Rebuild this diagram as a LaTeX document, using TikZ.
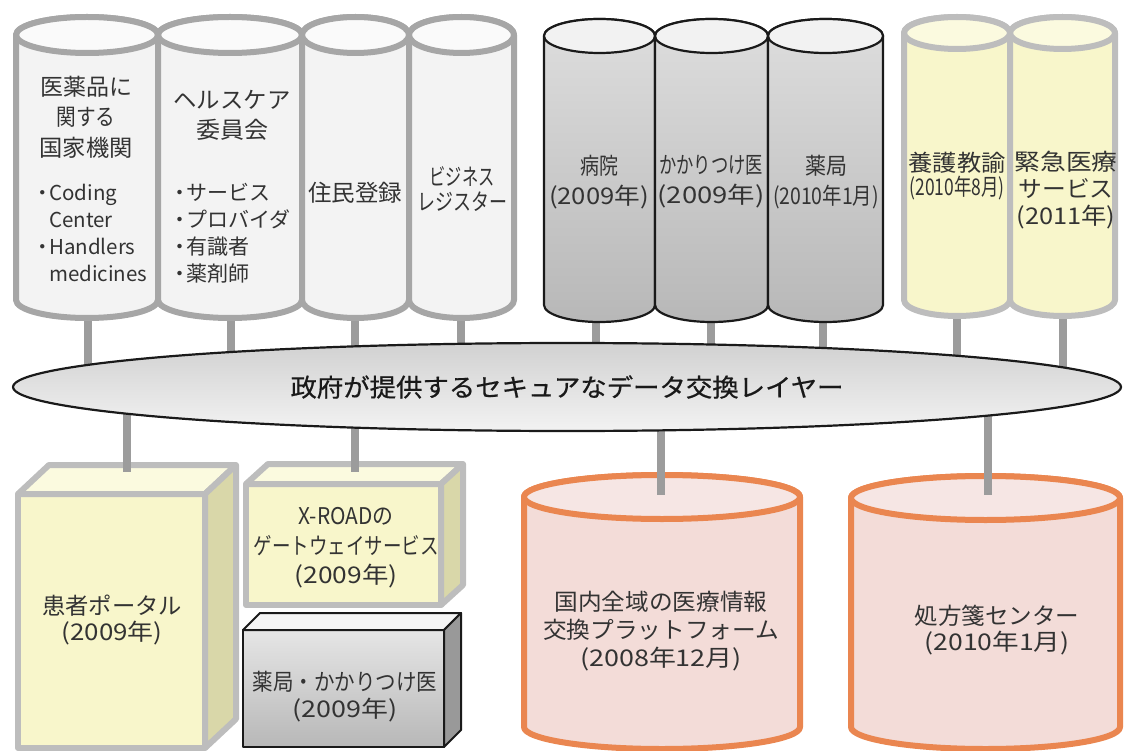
\documentclass[tikz,border=0pt]{standalone}
\usepackage{fontspec}
\setmainfont{Noto Sans CJK JP}
\newfontfamily\boldish[FakeBold=0.6]{Noto Sans CJK JP}
\usepackage{graphicx}
\usetikzlibrary{shapes.geometric}
\newcommand\fitw[2]{\resizebox{#1pt}{\height}{#2}}
\newcommand\mycyl[7]{%
  \path[#6] (#1,#3) -- (#1,#4)
    arc[start angle=180,end angle=0,x radius={(#2-#1)/2},y radius=#5]
    -- (#2,#3)
    arc[start angle=0,end angle=-180,x radius={(#2-#1)/2},y radius=#5] -- cycle;
  \path[#7] ({(#1+#2)/2},#3) ellipse[x radius={(#2-#1)/2},y radius=#5];
}
\newcommand\mybox[9]{%
  \path[#7] (#1,#3) rectangle (#2,#4);
  \path[#8] (#1,#3) -- ({#1+#5},{#3+#6}) -- ({#2+#5},{#3+#6}) -- (#2,#3) -- cycle;
  \path[#9] (#2,#3) -- ({#2+#5},{#3+#6}) -- ({#2+#5},{#4+#6}) -- (#2,#4) -- cycle;
}
\definecolor{wstroke}{HTML}{A6A6A6}
\definecolor{wbody}{HTML}{F3F3F3}
\definecolor{wtopc}{HTML}{FAFAFA}
\definecolor{gstroke}{HTML}{1A1A1A}
\definecolor{gtopc}{HTML}{F2F2F2}
\definecolor{ystroke}{HTML}{BDBDBD}
\definecolor{ybody}{HTML}{F8F6CB}
\definecolor{ytopc}{HTML}{FBFADF}
\definecolor{ysidec}{HTML}{D9D7A9}
\definecolor{ostroke}{HTML}{EA8650}
\definecolor{obody}{HTML}{F3DCD8}
\definecolor{otopc}{HTML}{F6E6E4}
\definecolor{connc}{HTML}{9C9C9C}
\definecolor{txtc}{HTML}{333333}
\begin{document}
\begin{tikzpicture}[x=1pt,y=-1pt,
  line join=round,
  wcylbody/.style={draw=wstroke,line width=6pt,fill=wbody},
  wcyltop/.style={draw=wstroke,line width=6pt,fill=wtopc},
  gcylbody/.style={draw=gstroke,line width=2.2pt,top color=black!13,bottom color=black!28},
  gcyltop/.style={draw=gstroke,line width=2.2pt,fill=gtopc},
  ycylbody/.style={draw=ystroke,line width=6pt,fill=ybody},
  ycyltop/.style={draw=ystroke,line width=6pt,fill=ytopc},
  ocylbody/.style={draw=ostroke,line width=6pt,fill=obody},
  ocyltop/.style={draw=ostroke,line width=6pt,fill=otopc},
  yboxfront/.style={draw=ystroke,line width=6pt,fill=ybody},
  yboxtop/.style={draw=ystroke,line width=6pt,fill=ytopc},
  yboxside/.style={draw=ystroke,line width=6pt,fill=ysidec},
  gboxfront/.style={draw=gstroke,line width=2pt,top color=black!10,bottom color=black!28},
  gboxtop/.style={draw=gstroke,line width=2pt,fill=black!4},
  gboxside/.style={draw=gstroke,line width=2pt,fill=black!40},
  conn/.style={draw=connc,line width=8pt},
  txt/.style={align=center,inner sep=0pt,text=txtc},
  layerell/.style={ellipse,draw=gstroke,line width=2.2pt,top color=black!18,bottom color=black!5,
    minimum width=1108pt,minimum height=88pt,inner sep=0pt,text=black!90,
    font=\boldish\fontsize{25}{30}\selectfont}
]
\useasboundingbox (0,0) rectangle (1124,751);

% ---- bottom shapes
\mybox{18}{205}{494}{748}{31}{-29}{yboxfront}{yboxtop}{yboxside}
\mybox{246}{441}{484}{605}{22}{-20}{yboxfront}{yboxtop}{yboxside}
\mybox{243}{444}{630}{747}{17}{-17}{gboxfront}{gboxtop}{gboxside}
\mycyl{524}{800}{497}{727}{22}{ocylbody}{ocyltop}
\mycyl{851}{1120}{498}{727}{22}{ocylbody}{ocyltop}

% ---- bottom texts
\node[txt,font=\fontsize{23}{26}\selectfont] (p1) at (112,620)
  {\fitw{140}{患者ポータル}\\\fitw{101}{(2009年)}};
\node[txt,font=\fontsize{23}{29.5}\selectfont] (p2) at (346,548)
  {\fitw{95}{X-ROADの}\\\fitw{185}{ゲートウェイサービス}\\\fitw{103}{(2009年)}};
\node[txt,font=\fontsize{23}{27}\selectfont] (p3) at (345,697)
  {\fitw{185}{薬局・かかりつけ医}\\\fitw{105}{(2009年)}};
\node[txt,font=\fontsize{23}{28}\selectfont] (o1) at (661,631)
  {\fitw{213}{国内全域の医療情報}\\\fitw{236}{交換プラットフォーム}\\\fitw{162}{(2008年12月)}};
\node[txt,font=\fontsize{23}{26}\selectfont] (o2) at (997,630)
  {\fitw{165}{処方箋センター}\\\fitw{145}{(2010年1月)}};

% ---- connectors
\coordinate (Lc) at (567,387);
\coordinate (bp) at (127,472);
\coordinate (bx) at (355,472);
\coordinate (bo1) at (661,495);
\coordinate (bo2) at (988,495);
\draw[conn] (bp |- Lc) -- (bp);
\draw[conn] (bx |- Lc) -- (bx);
\draw[conn] (bo1 |- Lc) -- (bo1);
\draw[conn] (bo2 |- Lc) -- (bo2);
\coordinate (u1) at (88,312);
\coordinate (u2) at (231,312);
\coordinate (u3) at (355,312);
\coordinate (u4) at (461,312);
\coordinate (u5) at (596,316);
\coordinate (u6) at (711,316);
\coordinate (u7) at (823,316);
\coordinate (u8) at (957,312);
\coordinate (u9) at (1063,312);
\foreach \u in {u1,u2,u3,u4,u5,u6,u7,u8,u9}{\draw[conn] (\u) -- (\u |- Lc);}

% ---- layer ellipse
\node[layerell] (L) at (Lc) {\fitw{553}{政府が提供するセキュアなデータ交換レイヤー}};

% ---- top cylinders
\mycyl{16}{158}{35}{300}{18}{wcylbody}{wcyltop}
\mycyl{158}{302}{35}{300}{18}{wcylbody}{wcyltop}
\mycyl{302}{409}{35}{300}{18}{wcylbody}{wcyltop}
\mycyl{409}{514}{35}{300}{18}{wcylbody}{wcyltop}
\mycyl{544}{655}{36}{305}{17}{gcylbody}{gcyltop}
\mycyl{655}{768}{36}{305}{17}{gcylbody}{gcyltop}
\mycyl{768}{883}{36}{305}{17}{gcylbody}{gcyltop}
\mycyl{904}{1010}{33}{300}{16}{ycylbody}{ycyltop}
\mycyl{1010}{1115}{33}{300}{16}{ycylbody}{ycyltop}

% ---- top texts
\node[txt,font=\fontsize{23}{30.5}\selectfont] (t1) at (86,117)
  {\fitw{92}{医薬品に}\\\fitw{59}{関する}\\\fitw{93}{国家機関}};
\node[txt,align=left,anchor=west,font=\fontsize{20.5}{27}\selectfont] (t1b) at (37,233)
  {\makebox[12pt]{・}Coding\\\makebox[12pt]{}Center\\\makebox[12pt]{・}Handlers\\\makebox[12pt]{}medicines};
\node[txt,font=\fontsize{23}{30}\selectfont] (t2) at (232,115)
  {\fitw{117}{ヘルスケア}\\\fitw{72}{委員会}};
\node[txt,align=left,anchor=west,font=\fontsize{21}{27}\selectfont] (t2b) at (174,233)
  {\makebox[12pt]{・}サービス\\\makebox[12pt]{・}プロバイダ\\\makebox[12pt]{・}有識者\\\makebox[12pt]{・}薬剤師};
\node[txt,font=\fontsize{23}{30}\selectfont] (t3) at (355,193) {\fitw{94}{住民登録}};
\node[txt,font=\fontsize{23}{25}\selectfont] (t4) at (462,189)
  {\fitw{65}{ビジネス}\\\fitw{90}{レジスター}};
\node[txt,font=\fontsize{23}{30}\selectfont] (t5) at (599,182)
  {\fitw{38}{病院}\\\fitw{100}{(2009年)}};
\node[txt,font=\fontsize{23}{30}\selectfont] (t6) at (711,182)
  {\fitw{104}{かかりつけ医}\\\fitw{107}{(2009年)}};
\node[txt,font=\fontsize{23}{30}\selectfont] (t7) at (826,182)
  {\fitw{42}{薬局}\\\fitw{106}{(2010年1月)}};
\node[txt,font=\fontsize{23}{24}\selectfont] (t8) at (957,176)
  {\fitw{97}{養護教諭}\\\fitw{95}{(2010年8月)}};
\node[txt,font=\fontsize{23}{27}\selectfont] (t9) at (1066,190)
  {\fitw{103}{緊急医療}\\\fitw{95}{サービス}\\\fitw{99}{(2011年)}};
\end{tikzpicture}
\end{document}
